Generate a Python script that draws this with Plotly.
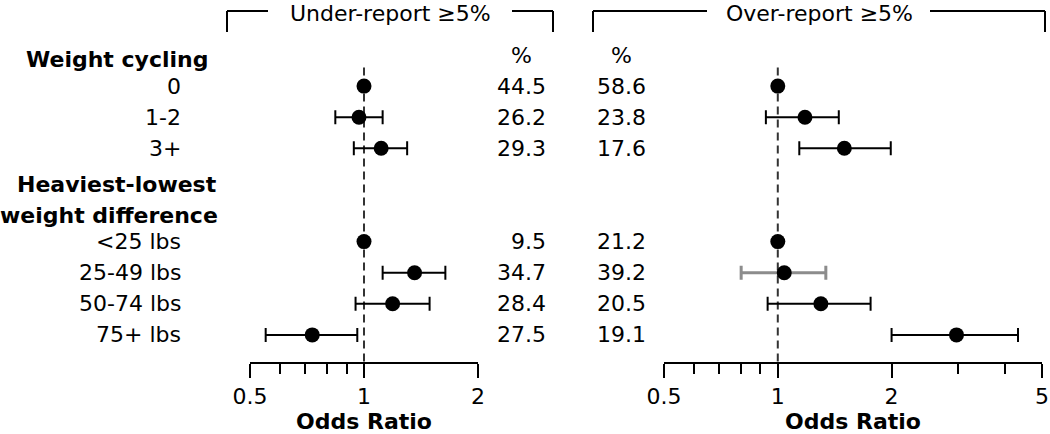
import math
import plotly.graph_objects as go

# ---------------- data ----------------
group_titles = ["Weight cycling", "Heaviest-lowest<br>weight difference"]
group_items = [["0", "1-2", "3+"], ["<25 lbs", "25-49 lbs", "50-74 lbs", "75+ lbs"]]

under_or = [1.00, 0.97, 1.11, 1.00, 1.36, 1.19, 0.73]
under_lo = [None, 0.84, 0.94, None, 1.12, 0.95, 0.55]
under_hi = [None, 1.12, 1.30, None, 1.64, 1.49, 0.96]
under_pct = ["44.5", "26.2", "29.3", "9.5", "34.7", "28.4", "27.5"]

over_or = [1.00, 1.18, 1.50, 1.00, 1.04, 1.30, 2.97]
over_lo = [None, 0.93, 1.14, None, 0.80, 0.94, 2.00]
over_hi = [None, 1.45, 1.99, None, 1.34, 1.76, 4.32]
over_pct = ["58.6", "23.8", "17.6", "21.2", "39.2", "20.5", "19.1"]

panel_titles = ["Under-report \u22655%", "Over-report \u22655%"]
left_ticks = [0.5, 1, 2]
left_minor = [0.6, 0.7, 0.8, 0.9]
right_ticks = [0.5, 1, 2, 5]
right_minor = [0.6, 0.7, 0.8, 0.9, 3, 4]
ref_or = 1.0
gray_row_over = "25-49 lbs"   # CI drawn in gray in the over-report panel

# ---------------- layout helpers ----------------
W, H = 1050, 434
FONT = "DejaVu Sans"
FS = 22

def px(x):
    return x / W

def py(y):
    return 1 - y / H

# build row positions from group structure
header_rows = []   # (row, text, line index)
item_rows = []
labels = []
r = 0
for title, items in zip(group_titles, group_items):
    for k, line in enumerate(title.split("<br>")):
        header_rows.append((r, line, k))
        r += 1
    for it in items:
        item_rows.append(r)
        labels.append(it)
        r += 1
n_rows = r

ROW0_PX = 55.0     # pixel y of row 0
ROW_STEP = 31.1
y_top = -ROW0_PX / ROW_STEP
y_bot = (H - ROW0_PX) / ROW_STEP

fig = go.Figure()

def add_panel(xref, ors, los, his, gray_label=None):
    for i, (o, lo, hi) in enumerate(zip(ors, los, his)):
        col = "#8c8c8c" if labels[i] == gray_label else "black"
        thick = 3 if labels[i] == gray_label else 2
        ex = None
        if lo is not None:
            ex = dict(type="data", symmetric=False, array=[hi - o], arrayminus=[o - lo],
                      color=col, thickness=thick, width=7, visible=True)
        fig.add_trace(go.Scatter(
            x=[o], y=[item_rows[i]], xaxis=xref, yaxis="y", mode="markers",
            marker=dict(color="black", size=15, line=dict(width=0)),
            error_x=ex, showlegend=False, hoverinfo="skip", cliponaxis=False))

add_panel("x", under_or, under_lo, under_hi)
add_panel("x2", over_or, over_lo, over_hi, gray_label=gray_row_over)

AXIS_PX = 363
axis_common = dict(
    type="log", anchor="free", position=py(AXIS_PX), side="bottom", automargin=False,
    showline=True, linecolor="black", linewidth=2,
    ticks="outside", ticklen=14, tickwidth=2, tickcolor="black",
    showgrid=False, zeroline=False,
    tickfont=dict(family=FONT, size=FS, color="black"),
    title=dict(text="<b>Odds Ratio</b>", font=dict(family=FONT, size=FS, color="black"), standoff=11),
)

fig.update_layout(
    width=W, height=H, margin=dict(l=0, r=0, t=0, b=0, pad=0, autoexpand=False),
    paper_bgcolor="white", plot_bgcolor="white",
    font=dict(family=FONT, size=FS, color="black"),
    xaxis=dict(domain=[px(250), px(478)], range=[math.log10(0.5), math.log10(2)],
               tickvals=left_ticks, ticktext=[str(t) for t in left_ticks],
               minor=dict(tickvals=left_minor, ticks="outside", ticklen=10, tickwidth=2,
                          tickcolor="black", showgrid=False),
               **axis_common),
    xaxis2=dict(domain=[px(664), px(1042)], range=[math.log10(0.5), math.log10(5)],
                tickvals=right_ticks, ticktext=[str(t) for t in right_ticks],
                minor=dict(tickvals=right_minor, ticks="outside", ticklen=10, tickwidth=2,
                           tickcolor="black", showgrid=False),
                **axis_common),
    yaxis=dict(domain=[0, 1], range=[y_bot, y_top], visible=False, fixedrange=True,
               automargin=False),
)

# dashed reference lines at OR = 1
line_y0 = 0.4
line_y1 = (AXIS_PX - ROW0_PX) / ROW_STEP
for xr in ["x", "x2"]:
    fig.add_shape(type="line", xref=xr, yref="y", x0=ref_or, x1=ref_or, y0=line_y0, y1=line_y1,
                  line=dict(color="#333333", width=2, dash="8px,5px"), layer="below")

ann = []
# group headers (first line / continuation line centres)
header_cx = [117, 109]
for row, text, k in header_rows:
    ann.append(dict(x=px(header_cx[min(k, 1)]), y=row + 0.15, xref="paper", yref="y",
                    text=f"<b>{text}</b>", showarrow=False, xanchor="center", yanchor="middle",
                    font=dict(family=FONT, size=FS, color="black")))
# category labels
for row, lab in zip(item_rows, labels):
    ann.append(dict(x=px(183), y=row, xref="paper", yref="y", text=lab.replace("<", "&lt;"),
                    showarrow=False, xanchor="right", yanchor="middle",
                    font=dict(family=FONT, size=FS, color="black")))
# percent columns
ann.append(dict(x=px(521), y=0, xref="paper", yref="y", text="%", showarrow=False,
                xanchor="center", yanchor="middle", font=dict(family=FONT, size=FS, color="black")))
ann.append(dict(x=px(621), y=0, xref="paper", yref="y", text="%", showarrow=False,
                xanchor="center", yanchor="middle", font=dict(family=FONT, size=FS, color="black")))
for row, a, b in zip(item_rows, under_pct, over_pct):
    ann.append(dict(x=px(548), y=row, xref="paper", yref="y", text=a, showarrow=False,
                    xanchor="right", yanchor="middle", font=dict(family=FONT, size=FS, color="black")))
    ann.append(dict(x=px(648), y=row, xref="paper", yref="y", text=b, showarrow=False,
                    xanchor="right", yanchor="middle", font=dict(family=FONT, size=FS, color="black")))

# panel titles with brackets
brackets = [(227, 268, 512, 553, 390), (593, 707, 930, 1045, 819)]
for (xl, xl2, xr1, xr, xc), t in zip(brackets, panel_titles):
    ann.append(dict(x=px(xc), y=py(13), xref="paper", yref="paper", text=t, showarrow=False,
                    xanchor="center", yanchor="middle", font=dict(family=FONT, size=FS, color="black")))
    for (x0, y0, x1, y1) in [(xl, 11, xl, 32), (xl, 11, xl2, 11), (xr1, 11, xr, 11), (xr, 11, xr, 32)]:
        fig.add_shape(type="line", xref="paper", yref="paper", x0=px(x0), y0=py(y0), x1=px(x1), y1=py(y1),
                      line=dict(color="black", width=2))

fig.update_layout(annotations=ann)
fig.write_html("out.html", config={"displayModeBar": False},
               post_script="document.body.style.margin='0';")
